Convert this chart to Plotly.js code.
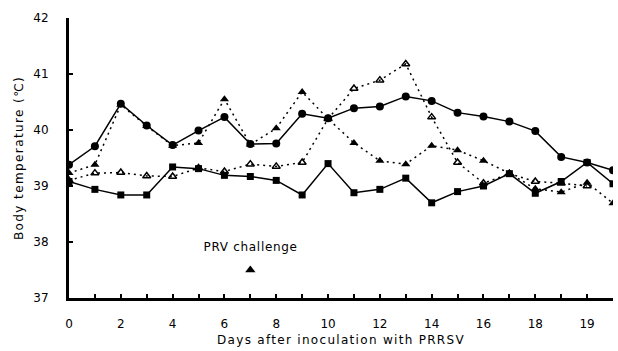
<!DOCTYPE html>
<html>
<head>
<meta charset="utf-8">
<script src="https://cdn.plot.ly/plotly-3.0.1.min.js"></script>
<style>
html,body{margin:0;padding:0;background:#fff;}
#chart{width:618px;height:351px;}
#chart .xtitle{letter-spacing:1.3px;}
#chart .ytitle{letter-spacing:1.4px;}
#chart .annotation-text{letter-spacing:0.7px;}
</style>
</head>
<body>
<div id="chart"></div>
<script>
// x positions (day slots) and tick labels
const dayIndex = [0,1,2,3,4,5,6,7,8,9,10,11,12,13,14,15,16,17,18,19,20,21];
const tickPositions = [0,1,2,3,4,5,6,7,8,9,10,11,12,13,14,15,16,17,18,19,20,21];
const tickLabels = ["0","","2","","4","","6","","8","","10","","12","","14","","16","","18","","19",""];

// series values (body temperature, °C)
const solidCircles = [39.38,39.71,40.47,40.08,39.73,39.99,40.23,39.75,39.76,40.29,40.21,40.39,40.42,40.60,40.52,40.31,40.24,40.15,39.98,39.52,39.42,39.28];
const solidSquares = [39.08,38.94,38.84,38.84,39.34,39.31,39.19,39.17,39.10,38.84,39.40,38.88,38.94,39.14,38.70,38.90,39.00,39.22,38.87,39.08,39.42,39.04];
const dottedFilledTri = [39.23,39.38,40.45,40.07,39.72,39.77,40.55,39.74,40.03,40.68,40.20,39.77,39.45,39.39,39.72,39.64,39.45,39.23,38.95,38.89,39.06,38.69];
const dottedOpenTri = [39.10,39.23,39.24,39.18,39.17,39.32,39.26,39.39,39.35,39.42,40.20,40.74,40.89,41.18,40.23,39.42,39.05,39.22,39.08,39.05,39.00,null];

// PRV challenge marker
const challengeX = [7];
const challengeY = [37.5];
const challengeLabel = "PRV challenge";

const FONT = "DejaVu Sans, Arial, sans-serif";

const traces = [
  {x: dayIndex, y: dottedOpenTri, mode: "lines+markers", type: "scatter",
   line: {color: "#000", width: 1.5, dash: "2px,4px"},
   marker: {symbol: "triangle-up-open", size: 7, color: "#000", line: {width: 1.5, color: "#000"}}},
  {x: dayIndex, y: dottedFilledTri, mode: "lines+markers", type: "scatter",
   line: {color: "#000", width: 1.5, dash: "2px,4px"},
   marker: {symbol: "triangle-up", size: 8, color: "#000"}},
  {x: dayIndex, y: solidSquares, mode: "lines+markers", type: "scatter",
   line: {color: "#000", width: 1.5},
   marker: {symbol: "square", size: 7, color: "#000"}},
  {x: dayIndex, y: solidCircles, mode: "lines+markers", type: "scatter",
   line: {color: "#000", width: 1.5},
   marker: {symbol: "circle", size: 8, color: "#000"}},
  {x: challengeX, y: challengeY, mode: "markers", type: "scatter",
   marker: {symbol: "triangle-up", size: 9, color: "#000"}}
];

const layout = {
  width: 618, height: 351,
  margin: {l: 69, r: 5, t: 18, b: 53},
  paper_bgcolor: "#fff", plot_bgcolor: "#fff",
  showlegend: false,
  font: {family: FONT, size: 12, color: "#000"},
  xaxis: {
    range: [0, 21], showgrid: false, zeroline: false,
    showline: true, linewidth: 3, linecolor: "#000",
    ticks: "inside", ticklen: 4, tickwidth: 2, tickcolor: "#000",
    tickmode: "array", tickvals: tickPositions, ticktext: tickLabels,
    tickfont: {family: FONT, size: 12, color: "#000"},
    ticklabelstandoff: 13,
    title: {text: "Days after inoculation with PRRSV", font: {family: FONT, size: 12, color: "#000"}, standoff: 6}
  },
  yaxis: {
    range: [37, 42], showgrid: false, zeroline: false,
    showline: true, linewidth: 3, linecolor: "#000",
    ticks: "inside", ticklen: 4, tickwidth: 2, tickcolor: "#000",
    tickvals: [37,38,39,40,41,42], ticktext: ["37","38","39","40","41","42"],
    tickfont: {family: FONT, size: 12, color: "#000"},
    ticklabelstandoff: 15,
    title: {text: "Body temperature (℃)", font: {family: FONT, size: 12, color: "#000"}, standoff: 8}
  },
  annotations: [
    {x: 7, y: 37.91, xref: "x", yref: "y", text: challengeLabel, showarrow: false,
     font: {family: FONT, size: 12, color: "#000"}}
  ]
};

Plotly.newPlot("chart", traces, layout, {displayModeBar: false, staticPlot: true});
</script>
</body>
</html>
